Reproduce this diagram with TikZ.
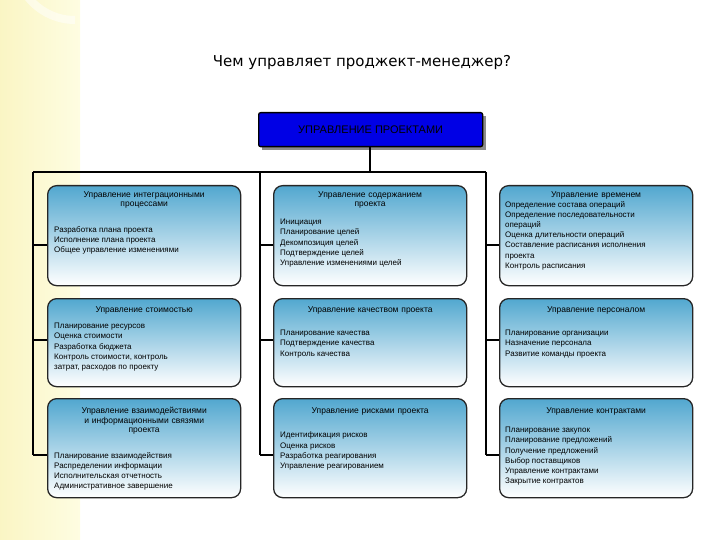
\documentclass[tikz,border=0pt]{standalone}
\usepackage{fontspec}
\setmainfont{Liberation Sans}
\newfontfamily\titlefont{DejaVu Sans}
\begin{document}
\begin{tikzpicture}[x=1pt,y=-1pt,
 box/.style={draw=black!85,line width=1.3pt,rounded corners=9pt,anchor=north west,top color=black!30!blue!40!cyan!70!gray!80,bottom color=white,minimum width=193pt,minimum height=#1},
 hdr/.style={anchor=north,align=center,font=\fontsize{8.5}{9.5}\selectfont,text width=185pt,inner sep=0pt},
 body/.style={anchor=north west,align=left,font=\fontsize{8}{10.2}\selectfont,inner sep=0pt},
 ln/.style={line width=2pt,black}]
\useasboundingbox (0,0) rectangle (720,540);
\fill[left color=brown!30!yellow!25,right color=brown!15!yellow!12] (0,0) rectangle (80,540);
\draw[white,line width=8pt,opacity=.5] (75,20) arc (90:250:60);
\node[font=\titlefont\fontsize{15}{17}\selectfont] (title) at (362,62) {Чем управляет проджект-менеджер?};
\fill[black!45] (262,116) rectangle (486,150);
\node[draw=black,line width=1.3pt,fill=blue!90!black,anchor=north west,minimum width=224pt,minimum height=34pt,rounded corners=2pt,font=\fontsize{11}{12}\selectfont] (top) at (258,112) {УПРАВЛЕНИЕ ПРОЕКТАМИ};
\coordinate (j) at (370,172);
\coordinate (l) at (33,172); \coordinate (m) at (260,172); \coordinate (r) at (486,172);
\coordinate (l3) at (33,455); \coordinate (m3) at (260,455); \coordinate (r3) at (486,455);
\draw[ln] (top.south -| j) -- (j);
\draw[ln] (l) -- (r);
\draw[ln] (l) -- (l3); \draw[ln] (m) -- (m3); \draw[ln] (r) -- (r3);
% boxes
\node[box=100pt] (a1) at (47,185) {};
\node[box=100pt] (b1) at (273,185) {};
\node[box=100pt] (c1) at (499,185) {};
\node[box=88pt] (a2) at (47,298) {};
\node[box=88pt] (b2) at (273,298) {};
\node[box=88pt] (c2) at (499,298) {};
\node[box=99pt] (a3) at (47,398) {};
\node[box=99pt] (b3) at (273,398) {};
\node[box=99pt] (c3) at (499,398) {};
\foreach \c/\x in {a/33,b/260,c/486}{
 \draw[ln] (\x,245) -- (\c1.west |- 0,245);
 \draw[ln] (\x,340) -- (\c2.west |- 0,340);
 \draw[ln] (\x,455) -- (\c3.west |- 0,455);
}
% texts
\node[hdr] at ([yshift=-6pt]a1.north) {Управление интеграционными\\процессами};
\node[body] at (54,226) {Разработка плана проекта\\Исполнение плана проекта\\Общее управление изменениями};
\node[hdr] at ([yshift=-6pt]b1.north) {Управление содержанием\\проекта};
\node[body] at (280,219) {Инициация\\Планирование целей\\Декомпозиция целей\\Подтверждение целей\\Управление изменениями целей};
\node[hdr] at ([yshift=-6pt]c1.north) {Управление временем};
\node[body] at (505,201) {Определение состава операций\\Определение последовательности\\операций\\Оценка длительности операций\\Составление расписания исполнения\\проекта\\Контроль расписания};
\node[hdr] at ([yshift=-8pt]a2.north) {Управление стоимостью};
\node[body] at (54,323) {Планирование ресурсов\\Оценка стоимости\\Разработка бюджета\\Контроль стоимости, контроль\\затрат, расходов по проекту};
\node[hdr] at ([yshift=-8pt]b2.north) {Управление качеством проекта};
\node[body] at (280,330) {Планирование качества\\Подтверждение качества\\Контроль качества};
\node[hdr] at ([yshift=-8pt]c2.north) {Управление персоналом};
\node[body] at (505,330) {Планирование организации\\Назначение персонала\\Развитие команды проекта};
\node[hdr] at ([yshift=-9pt]a3.north) {Управление взаимодействиями\\и информационными связями\\проекта};
\node[body] at (54,452) {Планирование взаимодействия\\Распределении информации\\Исполнительская отчетность\\Административное завершение};
\node[hdr] at ([yshift=-9pt]b3.north) {Управление рисками проекта};
\node[body] at (280,432) {Идентификация рисков\\Оценка рисков\\Разработка реагирования\\Управление реагированием};
\node[hdr] at ([yshift=-9pt]c3.north) {Управление контрактами};
\node[body] at (505,427) {Планирование закупок\\Планирование предложений\\Получение предложений\\Выбор поставщиков\\Управление контрактами\\Закрытие контрактов};
\end{tikzpicture}
\end{document}
